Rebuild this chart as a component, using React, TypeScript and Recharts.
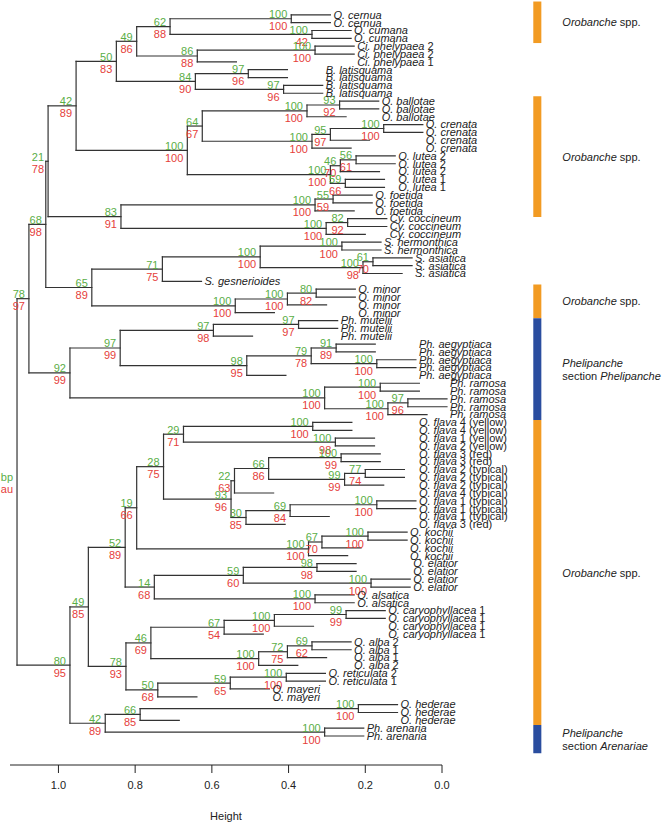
import React from "react";
import {
  ScatterChart,
  Scatter,
  XAxis,
  YAxis,
  ReferenceLine,
  ReferenceArea,
  ReferenceDot,
} from "recharts";

const FONT = '"Liberation Sans", Arial, Helvetica, sans-serif';
const GREEN = "#5aae46";
const RED = "#e5403a";
const INK = "#333333";
const ORANGE = "#f29b23";
const BLUE = "#2a4d9f";

// leaves, top to bottom
const leafNames = [
  "O. cernua", "O. cernua", "O. cumana", "O. cumana",
  "Ci. phelypaea 2", "Ci. phelypaea 2", "Ci. phelypaea 1",
  "B. latisquama", "B. latisquama", "B. latisquama", "B. latisquama",
  "O. ballotae", "O. ballotae", "O. ballotae",
  "O. crenata", "O. crenata", "O. crenata", "O. crenata",
  "O. lutea 2", "O. lutea 2", "O. lutea 2", "O. lutea 1", "O. lutea 1",
  "O. foetida", "O. foetida", "O. foetida",
  "Cy. coccineum", "Cy. coccineum", "Cy. coccineum",
  "S. hermonthica", "S. hermonthica",
  "S. asiatica", "S. asiatica", "S. asiatica",
  "S. gesnerioides",
  "O. minor", "O. minor", "O. minor", "O. minor",
  "Ph. mutelii", "Ph. mutelii", "Ph. mutelii",
  "Ph. aegyptiaca", "Ph. aegyptiaca", "Ph. aegyptiaca", "Ph. aegyptiaca", "Ph. aegyptiaca",
  "Ph. ramosa", "Ph. ramosa", "Ph. ramosa", "Ph. ramosa", "Ph. ramosa",
  "O. flava 4 (yellow)", "O. flava 4 (yellow)", "O. flava 1 (yellow)", "O. flava 2 (yellow)",
  "O. flava 3 (red)", "O. flava 3 (red)",
  "O. flava 2 (typical)", "O. flava 2 (typical)", "O. flava 2 (typical)", "O. flava 4 (typical)",
  "O. flava 1 (typical)", "O. flava 1 (typical)", "O. flava 1 (typical)", "O. flava 3 (red)",
  "O. kochii", "O. kochii", "O. kochii", "O. kochii",
  "O. elatior", "O. elatior", "O. elatior", "O. elatior",
  "O. alsatica", "O. alsatica",
  "O. caryophyllacea 1", "O. caryophyllacea 1", "O. caryophyllacea 1", "O. caryophyllacea 1",
  "O. alba 2", "O. alba 1", "O. alba 1", "O. alba 2",
  "O. reticulata 2", "O. reticulata 1",
  "O. mayeri", "O. mayeri",
  "O. hederae", "O. hederae", "O. hederae",
  "Ph. arenaria", "Ph. arenaria",
];

// each merge = a run of leaves (first, last), 1-based
const clusterRanges: [number, number][] = [
  [1, 2], [3, 4], [1, 4], [5, 6], [5, 7], [1, 7], [8, 9], [10, 11], [8, 11], [1, 11],
  [12, 13], [12, 14], [15, 16], [15, 17], [15, 18], [12, 18],
  [19, 20], [19, 21], [22, 23], [19, 23], [12, 23], [1, 23],
  [24, 25], [24, 26], [27, 28], [27, 29], [24, 29], [1, 29],
  [30, 31], [32, 33], [32, 34], [30, 34], [30, 35],
  [36, 37], [36, 38], [36, 39], [30, 39], [1, 39],
  [40, 41], [40, 42], [43, 44], [45, 46], [43, 46], [43, 47], [40, 47],
  [48, 49], [50, 51], [50, 52], [48, 52], [40, 52], [1, 52],
  [53, 54], [55, 56], [53, 56], [57, 58], [59, 60], [59, 61], [57, 61], [57, 62],
  [63, 64], [63, 65], [63, 66], [57, 66], [53, 66],
  [67, 68], [67, 69], [67, 70], [53, 70],
  [71, 72], [73, 74], [71, 74], [75, 76], [71, 76], [53, 76],
  [77, 78], [77, 79], [77, 80], [81, 82], [81, 83], [81, 84], [77, 84],
  [85, 86], [85, 87], [85, 88], [77, 88], [53, 88],
  [89, 90], [89, 91], [92, 93], [89, 93], [53, 93], [1, 93],
];

const clusterHeights = [
  0.393, 0.339, 0.709, 0.331, 0.638, 0.796, 0.505, 0.413, 0.643, 0.849,
  0.267, 0.352, 0.152, 0.291, 0.339, 0.625,
  0.224, 0.265, 0.252, 0.291, 0.664, 0.954,
  0.284, 0.331, 0.246, 0.302, 0.837, 1.027,
  0.261, 0.18, 0.206, 0.474, 0.729,
  0.328, 0.403, 0.539, 0.913, 1.033,
  0.374, 0.596, 0.276, 0.17, 0.341, 0.509, 0.839,
  0.161, 0.089, 0.141, 0.306, 0.97, 1.077,
  0.337, 0.278, 0.674, 0.263, 0.2, 0.254, 0.452, 0.541,
  0.17, 0.396, 0.511, 0.55, 0.726,
  0.193, 0.313, 0.348, 0.796,
  0.326, 0.185, 0.518, 0.331, 0.75, 0.826,
  0.25, 0.437, 0.568, 0.339, 0.403, 0.478, 0.759,
  0.406, 0.552, 0.741, 0.824, 0.922,
  0.218, 0.787, 0.306, 0.878, 0.97, 1.108,
];

const bpValues: (number | string)[] = [
  100, 100, 62, 100, 86, 49, 97, 97, 84, 50,
  93, 100, 100, 95, 100, 64,
  56, 46, 59, 100, 100, 42,
  55, 100, 82, 100, 83, 21,
  100, 61, 100, 100, 71,
  80, 100, 100, 65, 68,
  97, 97, 91, 100, 79, 98, 97,
  100, 97, 100, 100, 92, 78,
  100, 100, 29, 100, 77, 99, 66, 22,
  100, 69, 30, 93, 28,
  100, 67, 100, 19,
  98, 100, 59, 100, 14, 52,
  99, 100, 67, 69, 72, 100, 46,
  100, 59, 50, 78, 49,
  100, 66, 100, 42, 80, "bp",
];

const auValues: (number | string)[] = [
  100, 42, 88, 100, 88, 86, 96, 96, 90, 83,
  92, 100, 100, 97, 100, 67,
  61, 70, 66, 100, 100, 89,
  59, 100, 92, 100, 91, 78,
  100, 70, 98, 100, 75,
  82, 100, 100, 89, 98,
  97, 98, 89, 100, 78, 95, 99,
  100, 96, 100, 100, 99, 97,
  100, 98, 71, 99, 74, 99, 86, 63,
  100, 84, 85, 96, 75,
  100, 70, 100, 66,
  98, 100, 60, 100, 68, 89,
  99, 100, 54, 62, 75, 100, 69,
  100, 65, 68, 93, 85,
  100, 85, 100, 89, 95, "au",
];

const heightTicks = [0, 0.2, 0.4, 0.6, 0.8, 1.0];

// coloured clade bars on the right, in leaf units
const cladeFrom = [-0.7, 11.4, 35.4, 39.7, 52.7, 91.6];
const cladeTo = [4.6, 26.8, 39.7, 52.7, 91.6, 95.2];
const cladeKind = ["oro", "oro", "oro", "phe", "oro", "are"];

const HANG = 0.102;
const BAR_LEFT = -0.238;
const BAR_RIGHT = -0.259;

type Kid = { leaf: number } | { cluster: number };

const clusters = clusterRanges.map(([first, last], k) => ({
  first,
  last,
  h: clusterHeights[k],
  bp: bpValues[k],
  au: auValues[k],
  y: 0,
  kids: [] as Kid[],
}));

// children of a merge = the largest merges (or single leaves) inside its run
clusters.forEach((c, k) => {
  let i = c.first;
  while (i <= c.last) {
    let best = -1;
    clusters.forEach((d, j) => {
      if (j === k || d.first !== i || d.last > c.last) return;
      if (d.last - d.first >= c.last - c.first) return;
      if (best < 0 || d.last > clusters[best].last) best = j;
    });
    if (best >= 0) {
      c.kids.push({ cluster: best });
      i = clusters[best].last + 1;
    } else {
      c.kids.push({ leaf: i });
      i += 1;
    }
  }
});

function yOfKid(kid: Kid): number {
  return "leaf" in kid ? kid.leaf : yOfCluster(kid.cluster);
}
function yOfCluster(k: number): number {
  const c = clusters[k];
  if (c.y) return c.y;
  const ys = c.kids.map(yOfKid);
  c.y = (ys[0] + ys[ys.length - 1]) / 2;
  return c.y;
}
clusters.forEach((_, k) => yOfCluster(k));

const segments: { x1: number; y1: number; x2: number; y2: number }[] = [];
const leafEnd: number[] = [];
clusters.forEach((c) => {
  const ys = c.kids.map(yOfKid);
  segments.push({ x1: c.h, y1: ys[0], x2: c.h, y2: ys[ys.length - 1] });
  c.kids.forEach((kid, n) => {
    const end = "leaf" in kid ? c.h - HANG : clusters[kid.cluster].h;
    if ("leaf" in kid) leafEnd[kid.leaf] = end;
    segments.push({ x1: c.h, y1: ys[n], x2: end, y2: ys[n] });
  });
});

// labels of one species line up after its longest leaf
const baseName = (s: string) => s.replace(/\s+\d.*$/, "");
const groupEnd = new Map<string, number>();
leafNames.forEach((name, idx) => {
  const g = baseName(name);
  const e = leafEnd[idx + 1];
  groupEnd.set(g, Math.min(groupEnd.get(g) ?? Infinity, e));
});

const nodePoints = clusters.map((c) => ({ h: c.h, y: c.y, bp: c.bp, au: c.au }));

const cladeLines: Record<string, { t: string; it: boolean }[][]> = {
  oro: [[{ t: "Orobanche", it: true }, { t: " spp.", it: false }]],
  phe: [
    [{ t: "Phelipanche", it: true }],
    [{ t: "section ", it: false }, { t: "Phelipanche", it: true }],
  ],
  are: [
    [{ t: "Phelipanche", it: true }],
    [{ t: "section ", it: false }, { t: "Arenariae", it: true }],
  ],
};

function NodeLabel(p: any) {
  const { cx, cy, payload } = p;
  return (
    <g>
      <text x={cx - 4} y={cy - 0.5} textAnchor="end" fill={GREEN} fontSize={11} fontFamily={FONT}>
        {payload.bp}
      </text>
      <text x={cx - 4} y={cy + 11.5} textAnchor="end" fill={RED} fontSize={11} fontFamily={FONT}>
        {payload.au}
      </text>
    </g>
  );
}

export default function App() {
  return (
    <div style={{ position: "absolute", left: 0, top: 0, width: 666, height: 826, background: "#fff" }}>
      <ScatterChart width={666} height={826} margin={{ top: 7, right: 224, bottom: 0, left: 10 }}>
        <XAxis
          type="number"
          dataKey="h"
          domain={[0, 1.1263]}
          reversed
          ticks={heightTicks}
          tickFormatter={(v: number) => v.toFixed(1)}
          height={61}
          tickSize={8}
          tickMargin={8}
          stroke="#222"
          tick={{ fontSize: 11, fill: "#222", fontFamily: FONT }}
          label={{ value: "Height", position: "insideBottom", offset: 6, fontSize: 11, fill: "#222", fontFamily: FONT }}
        />
        <YAxis type="number" dataKey="y" domain={[0, 96.7]} reversed hide width={0} />

        {cladeKind.map((kind, n) => (
          <ReferenceArea
            key={`bar${n}`}
            x1={BAR_RIGHT}
            x2={BAR_LEFT}
            y1={cladeFrom[n]}
            y2={cladeTo[n]}
            fill={kind === "oro" ? ORANGE : BLUE}
            fillOpacity={1}
            stroke="none"
            ifOverflow="visible"
          />
        ))}

        {segments.map((s, n) => (
          <ReferenceLine
            key={`seg${n}`}
            segment={[{ x: s.x1, y: s.y1 }, { x: s.x2, y: s.y2 }]}
            stroke={INK}
            strokeWidth={1.2}
            strokeLinecap="square"
            ifOverflow="visible"
          />
        ))}

        <Scatter data={nodePoints} isAnimationActive={false} shape={NodeLabel} />

        {leafNames.map((name, idx) => {
          const base = baseName(name);
          const suffix = name.slice(base.length);
          return (
            <ReferenceDot
              key={`leaf${idx}`}
              x={groupEnd.get(base)}
              y={idx + 1}
              r={0}
              ifOverflow="visible"
              shape={(p: any) => (
                <text x={p.cx + 3} y={p.cy} dy="0.35em" fontSize={11} fontFamily={FONT} fill="#222">
                  <tspan fontStyle="italic">{base}</tspan>
                  {suffix ? <tspan>{suffix}</tspan> : null}
                </text>
              )}
            />
          );
        })}

        {cladeKind.map((kind, n) => {
          const lines = cladeLines[kind];
          return (
            <ReferenceDot
              key={`clade${n}`}
              x={BAR_RIGHT}
              y={(cladeFrom[n] + cladeTo[n]) / 2}
              r={0}
              ifOverflow="visible"
              shape={(p: any) => (
                <text fontSize={11} fontFamily={FONT} fill="#222">
                  {lines.map((line, li) => (
                    <tspan key={li} x={p.cx + 21} y={p.cy + 4 + (li - (lines.length - 1) / 2) * 13}>
                      {line.map((part, pi) => (
                        <tspan key={pi} fontStyle={part.it ? "italic" : "normal"}>
                          {part.t}
                        </tspan>
                      ))}
                    </tspan>
                  ))}
                </text>
              )}
            />
          );
        })}
      </ScatterChart>
    </div>
  );
}
